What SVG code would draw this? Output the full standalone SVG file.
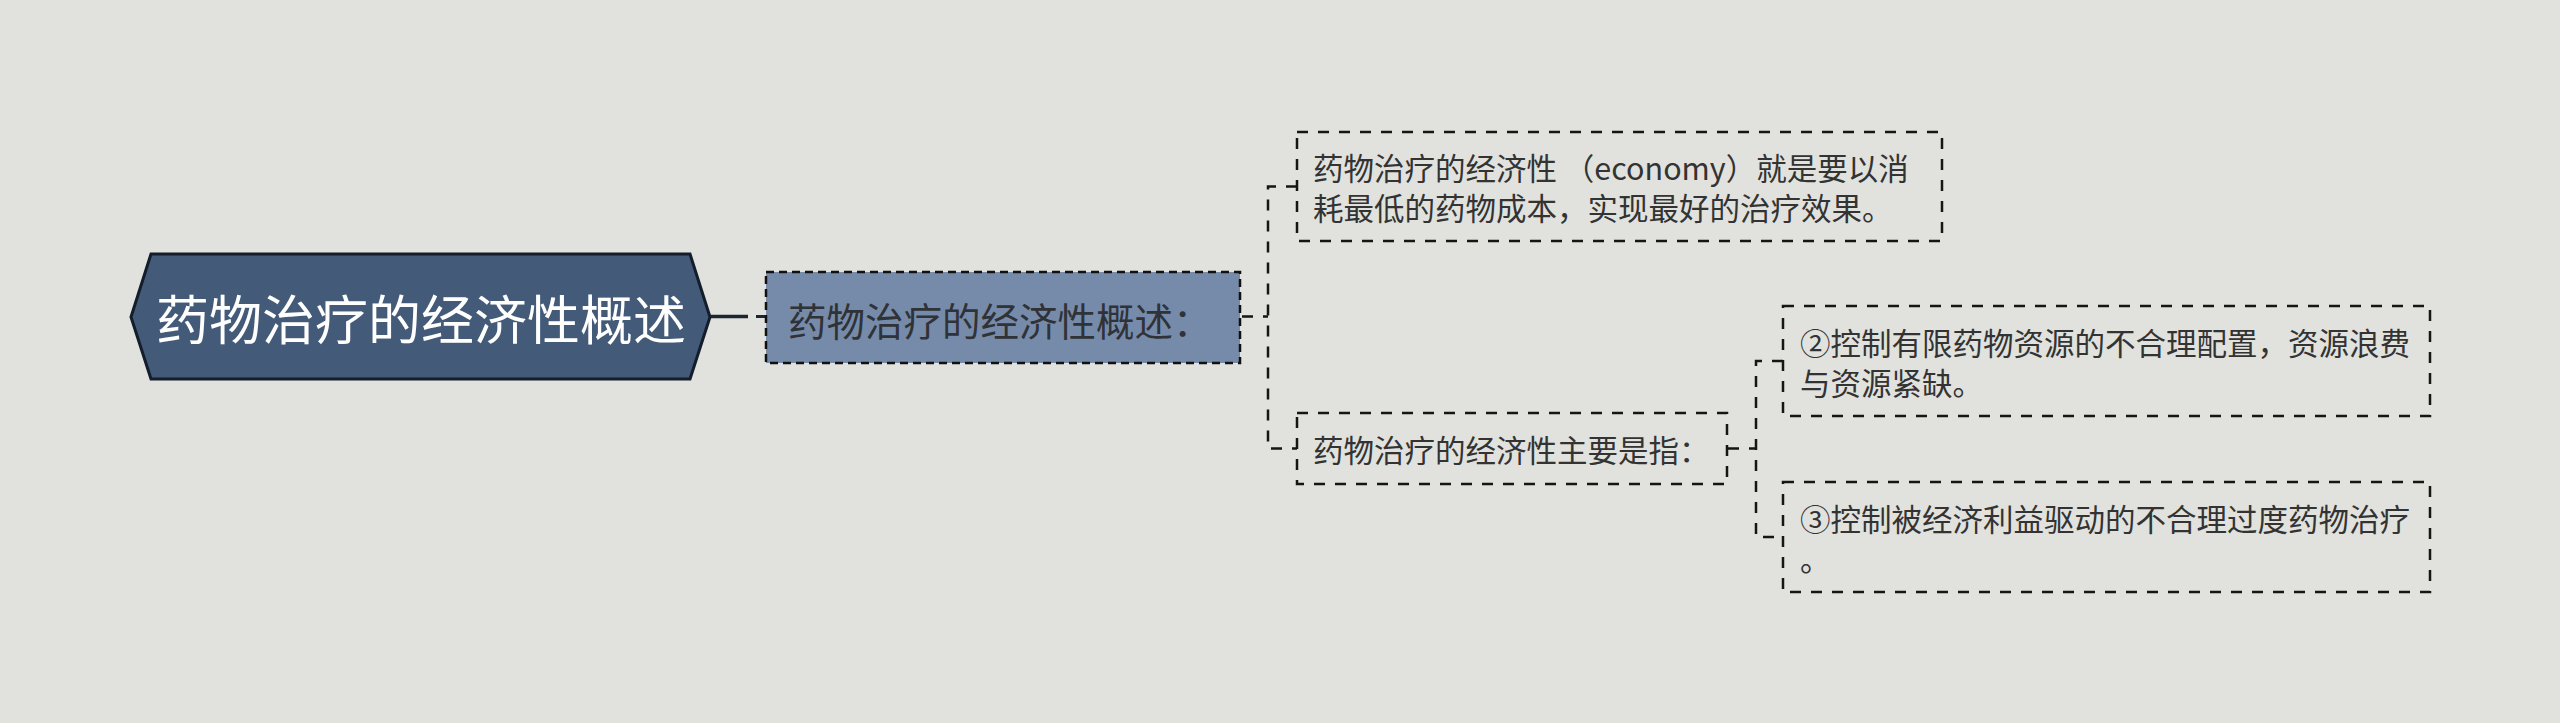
<svg xmlns="http://www.w3.org/2000/svg" width="2560" height="723" viewBox="0 0 2560 723">
<style>
text{font-family:"Noto Sans CJK SC","Noto Sans",sans-serif;dominant-baseline:central}
.t3{font-size:30.5px;fill:#333333}
.box{fill:none;stroke:#151515;stroke-width:2.5;stroke-dasharray:11 10}
.conn{fill:none;stroke:#151515;stroke-width:2.5;stroke-dasharray:11 10}
</style>
<rect x="0" y="0" width="2560" height="723" fill="#e1e2dd"/>
<g id="connectors">
<path d="M711 316.5 H748" stroke="#1c2633" stroke-width="3.5" fill="none"/>
<path d="M756 316.5 H766" stroke="#1c2633" stroke-width="3" fill="none"/>
<path class="conn" d="M1242 316.5 H1268"/>
<path class="conn" d="M1297 186.5 H1268 V448.5 H1297"/>
<path class="conn" d="M1728 448.5 H1756"/>
<path class="conn" d="M1783 361 H1756 V537 H1783"/>
</g>
<g id="root">
<polygon points="131,317 151,254 690,254 710,317 690,379 151,379" fill="#435b79" stroke="#131d2b" stroke-width="3"/>
<text x="421" y="317" text-anchor="middle" font-size="53" fill="#ffffff">药物治疗的经济性概述</text>
</g>
<g id="node-overview">
<rect x="766" y="272" width="474" height="91" fill="#768ba9" stroke="#111111" stroke-width="2.5" stroke-dasharray="8 5"/>
<text x="788" y="319" font-size="38.5" fill="#2f3237">药物治疗的经济性概述：</text>
</g>
<g id="node-economy">
<rect class="box" x="1297" y="132" width="645" height="109"/>
<text class="t3" x="1313" y="167">药物治疗的经济性 （economy）就是要以消</text>
<text class="t3" x="1313" y="207">耗最低的药物成本，实现最好的治疗效果。</text>
</g>
<g id="node-main">
<rect class="box" x="1297" y="413" width="430" height="71"/>
<text class="t3" x="1313" y="449">药物治疗的经济性主要是指：</text>
</g>
<g id="node-2">
<rect class="box" x="1783" y="306" width="647" height="110"/>
<text class="t3" x="1800" y="342">②控制有限药物资源的不合理配置，资源浪费</text>
<text class="t3" x="1800" y="382">与资源紧缺。</text>
</g>
<g id="node-3">
<rect class="box" x="1783" y="482" width="647" height="110"/>
<text class="t3" x="1800" y="518">③控制被经济利益驱动的不合理过度药物治疗</text>
<text class="t3" x="1800" y="558">。</text>
</g>
</svg>
